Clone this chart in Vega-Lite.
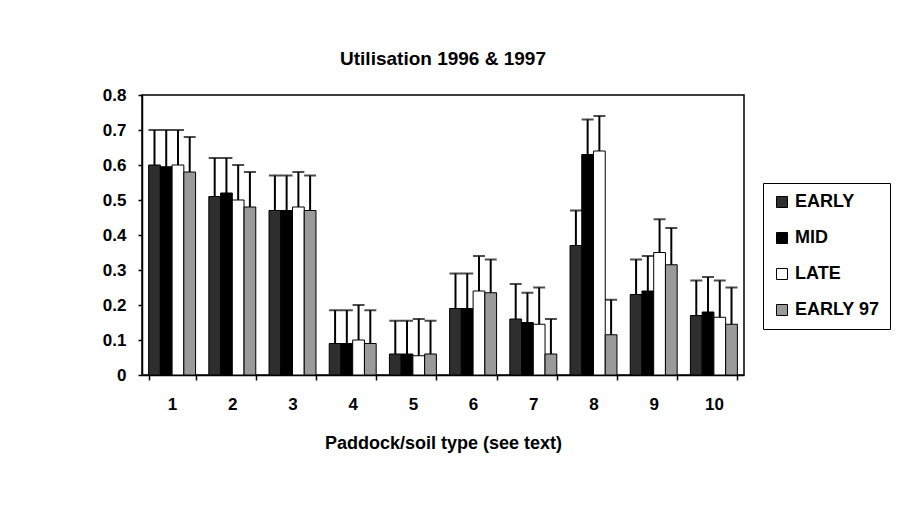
{
  "$schema": "https://vega.github.io/schema/vega-lite/v6.json",
  "width": 602,
  "height": 280,
  "autosize": "none",
  "padding": {"left": 142, "top": 95, "right": 165, "bottom": 132},
  "background": "white",
  "title": {
    "text": "Utilisation 1996 & 1997",
    "fontSize": 19,
    "fontWeight": "bold",
    "anchor": "middle",
    "offset": 2,
    "baseline": "alphabetic",
    "color": "black"
  },
  "config": {
    "font": "Liberation Sans",
    "view": {"stroke": "black", "strokeWidth": 1.5},
    "axis": {
      "domainColor": "black",
      "domainWidth": 1.5,
      "tickColor": "black",
      "tickWidth": 1.5,
      "labelColor": "black",
      "titleColor": "black",
      "labelFontSize": 17,
      "labelFontWeight": "bold",
      "grid": false
    },
    "axisY": {"tickSize": 4, "labelPadding": 12, "labelOverlap": false},
    "axisX": {"tickSize": 5, "labelPadding": 16, "titleFontSize": 18, "titleFontWeight": "bold", "titlePadding": 22}
  },
  "data": {
    "values": [
      {"paddock": 1, "series": "EARLY", "value": 0.60, "upper": 0.70},
      {"paddock": 1, "series": "MID", "value": 0.595, "upper": 0.70},
      {"paddock": 1, "series": "LATE", "value": 0.60, "upper": 0.70},
      {"paddock": 1, "series": "EARLY 97", "value": 0.58, "upper": 0.68},
      {"paddock": 2, "series": "EARLY", "value": 0.51, "upper": 0.62},
      {"paddock": 2, "series": "MID", "value": 0.52, "upper": 0.62},
      {"paddock": 2, "series": "LATE", "value": 0.50, "upper": 0.60},
      {"paddock": 2, "series": "EARLY 97", "value": 0.48, "upper": 0.58},
      {"paddock": 3, "series": "EARLY", "value": 0.47, "upper": 0.57},
      {"paddock": 3, "series": "MID", "value": 0.47, "upper": 0.57},
      {"paddock": 3, "series": "LATE", "value": 0.48, "upper": 0.58},
      {"paddock": 3, "series": "EARLY 97", "value": 0.47, "upper": 0.57},
      {"paddock": 4, "series": "EARLY", "value": 0.09, "upper": 0.185},
      {"paddock": 4, "series": "MID", "value": 0.09, "upper": 0.185},
      {"paddock": 4, "series": "LATE", "value": 0.10, "upper": 0.20},
      {"paddock": 4, "series": "EARLY 97", "value": 0.09, "upper": 0.185},
      {"paddock": 5, "series": "EARLY", "value": 0.06, "upper": 0.155},
      {"paddock": 5, "series": "MID", "value": 0.06, "upper": 0.155},
      {"paddock": 5, "series": "LATE", "value": 0.055, "upper": 0.16},
      {"paddock": 5, "series": "EARLY 97", "value": 0.06, "upper": 0.155},
      {"paddock": 6, "series": "EARLY", "value": 0.19, "upper": 0.29},
      {"paddock": 6, "series": "MID", "value": 0.19, "upper": 0.29},
      {"paddock": 6, "series": "LATE", "value": 0.24, "upper": 0.34},
      {"paddock": 6, "series": "EARLY 97", "value": 0.235, "upper": 0.33},
      {"paddock": 7, "series": "EARLY", "value": 0.16, "upper": 0.26},
      {"paddock": 7, "series": "MID", "value": 0.15, "upper": 0.235},
      {"paddock": 7, "series": "LATE", "value": 0.145, "upper": 0.25},
      {"paddock": 7, "series": "EARLY 97", "value": 0.06, "upper": 0.16},
      {"paddock": 8, "series": "EARLY", "value": 0.37, "upper": 0.47},
      {"paddock": 8, "series": "MID", "value": 0.63, "upper": 0.73},
      {"paddock": 8, "series": "LATE", "value": 0.64, "upper": 0.74},
      {"paddock": 8, "series": "EARLY 97", "value": 0.115, "upper": 0.215},
      {"paddock": 9, "series": "EARLY", "value": 0.23, "upper": 0.33},
      {"paddock": 9, "series": "MID", "value": 0.24, "upper": 0.34},
      {"paddock": 9, "series": "LATE", "value": 0.35, "upper": 0.445},
      {"paddock": 9, "series": "EARLY 97", "value": 0.315, "upper": 0.42},
      {"paddock": 10, "series": "EARLY", "value": 0.17, "upper": 0.27},
      {"paddock": 10, "series": "MID", "value": 0.18, "upper": 0.28},
      {"paddock": 10, "series": "LATE", "value": 0.165, "upper": 0.27},
      {"paddock": 10, "series": "EARLY 97", "value": 0.145, "upper": 0.25}
    ]
  },
  "encoding": {
    "x": {
      "field": "paddock",
      "type": "ordinal",
      "scale": {"paddingInner": 0.22, "paddingOuter": 0.11},
      "axis": {
        "title": "Paddock/soil type (see text)",
        "labelAngle": 0,
        "tickBand": "extent"
      }
    },
    "xOffset": {
      "field": "series",
      "type": "nominal",
      "sort": ["EARLY", "MID", "LATE", "EARLY 97"],
      "scale": {"paddingInner": 0, "paddingOuter": 0}
    }
  },
  "layer": [
    {
      "mark": {"type": "bar", "stroke": "black", "strokeWidth": 1},
      "encoding": {
        "y": {
          "field": "value",
          "type": "quantitative",
          "scale": {"domain": [0, 0.8], "nice": false},
          "axis": {
            "title": null,
            "values": [0, 0.1, 0.2, 0.3, 0.4, 0.5, 0.6, 0.7, 0.8],
            "format": ".1~f"
          }
        },
        "color": {
          "field": "series",
          "type": "nominal",
          "sort": ["EARLY", "MID", "LATE", "EARLY 97"],
          "scale": {
            "domain": ["EARLY", "MID", "LATE", "EARLY 97"],
            "range": ["#2e2e2e", "#000000", "#ffffff", "#9a9a9a"]
          },
          "legend": {
            "title": null,
            "orient": "none",
            "legendX": 621,
            "legendY": 88,
            "strokeColor": "black",
            "fillColor": "white",
            "padding": 10,
            "rowPadding": 18,
            "symbolType": "square",
            "symbolSize": 121,
            "symbolStrokeColor": "black",
            "symbolStrokeWidth": 1,
            "labelFontSize": 18,
            "labelFontWeight": "bold",
            "labelColor": "black",
            "labelOffset": 4
          }
        }
      }
    },
    {
      "mark": {"type": "rule", "color": "black", "strokeWidth": 2},
      "encoding": {
        "y": {
          "field": "value",
          "type": "quantitative",
          "scale": {"domain": [0, 0.8], "nice": false},
          "axis": {
            "title": null,
            "values": [0, 0.1, 0.2, 0.3, 0.4, 0.5, 0.6, 0.7, 0.8],
            "format": ".1~f"
          }
        },
        "y2": {"field": "upper"}
      }
    },
    {
      "mark": {"type": "tick", "color": "black", "thickness": 2, "size": 12},
      "encoding": {
        "y": {
          "field": "upper",
          "type": "quantitative",
          "scale": {"domain": [0, 0.8], "nice": false},
          "axis": {
            "title": null,
            "values": [0, 0.1, 0.2, 0.3, 0.4, 0.5, 0.6, 0.7, 0.8],
            "format": ".1~f"
          }
        }
      }
    }
  ]
}
